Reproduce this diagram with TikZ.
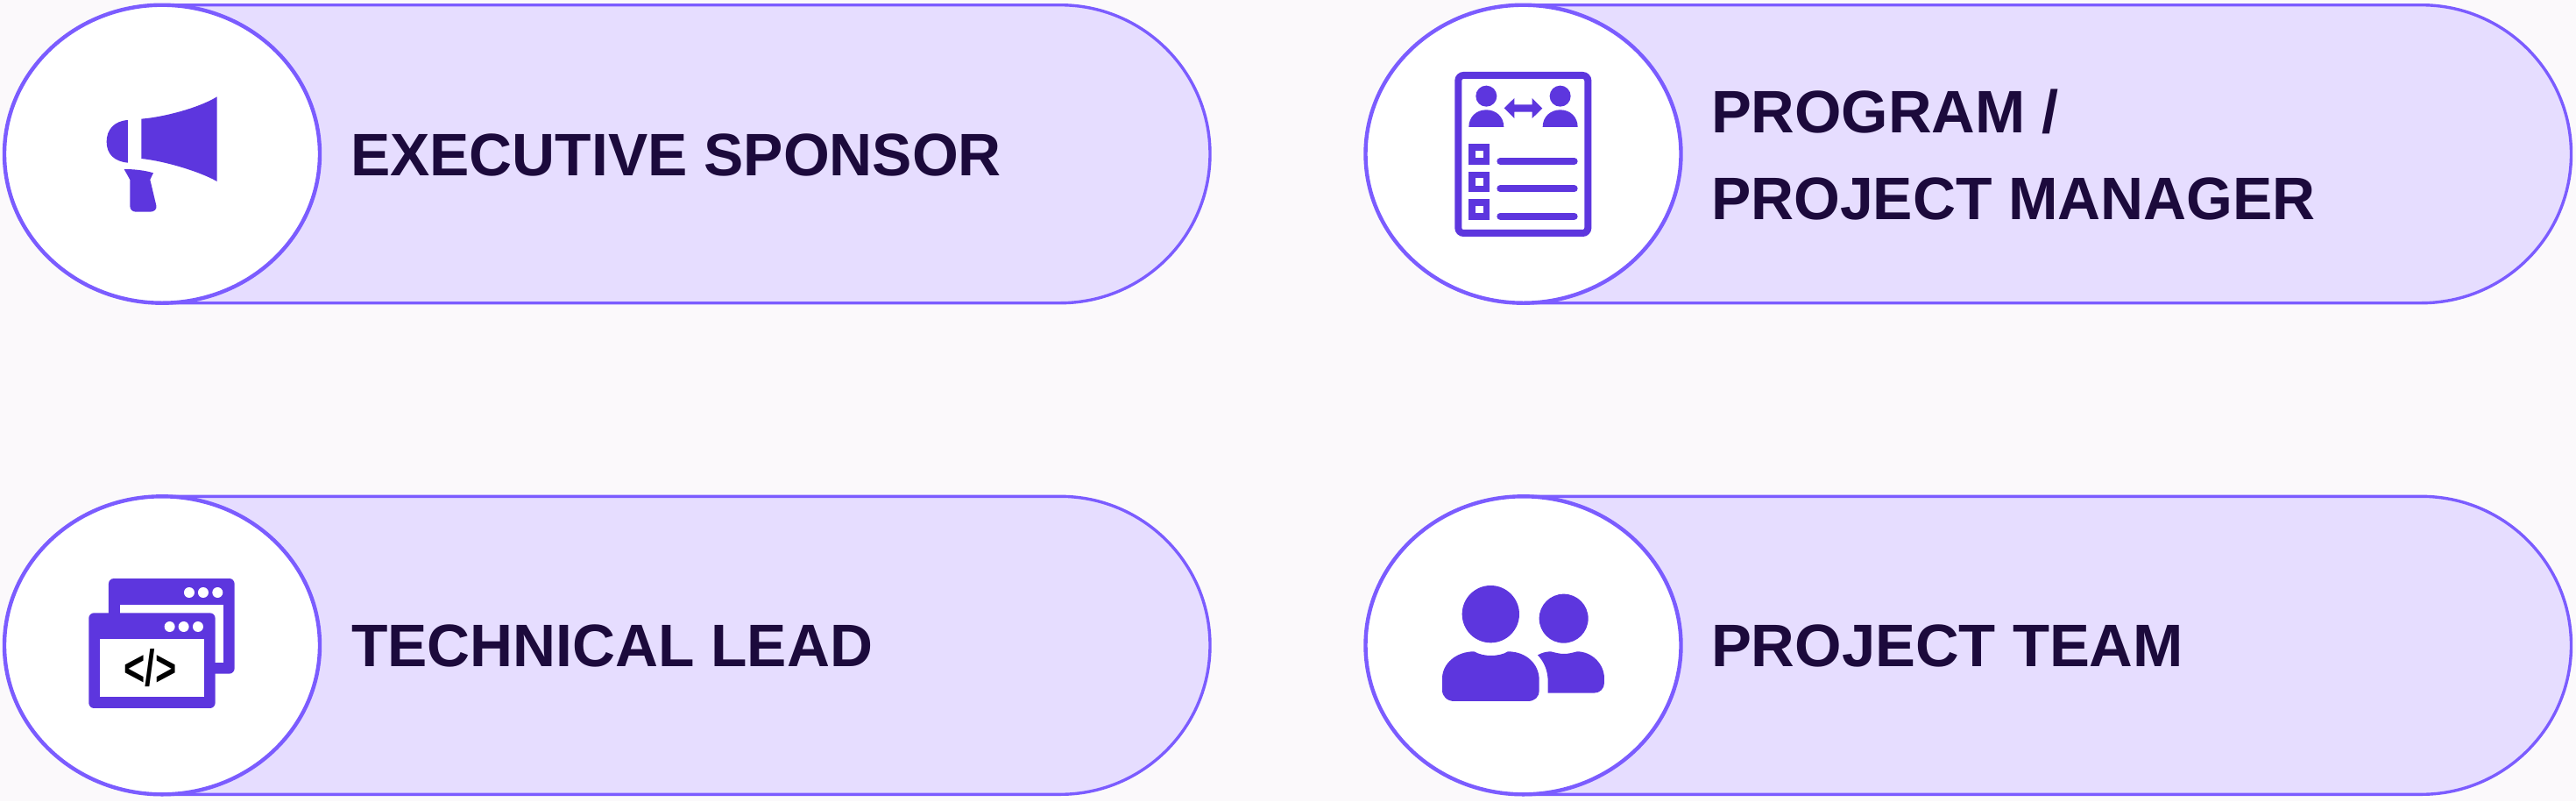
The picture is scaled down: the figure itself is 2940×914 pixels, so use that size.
\documentclass[tikz,border=0pt]{standalone}
\usepackage{fontspec}
\usepackage{graphicx}
\setmainfont{Liberation Sans}
\definecolor{pagebg}{HTML}{FBF9FB}
\definecolor{pillfill}{HTML}{E6DDFF}
\definecolor{edgeviolet}{HTML}{7B5CFF}
\definecolor{iconviolet}{HTML}{5D36DE}
\definecolor{inktext}{HTML}{1C0A3C}
\tikzset{
  pillbody/.style={draw=edgeviolet,fill=pillfill,line width=3.4pt},
  discbody/.style={draw=edgeviolet,fill=white,line width=4.4pt},
  ico/.style={fill=iconviolet,draw=none},
  hole/.style={fill=white,draw=none},
  icoline/.style={draw=iconviolet,line cap=round,line width=8pt},
  label/.style={anchor=base west,inner sep=0pt,outer sep=0pt,text=inktext,font=\fontsize{68.4pt}{68.4pt}\selectfont\bfseries},
  zoomed/.style={x=0.3333pt,y=-0.3333pt}
}
\newcommand{\pillcard}[2]{%
  \begin{scope}[shift={(#1,#2)}]
    \draw[pillbody] (0,0) -- (1025,0)
      .. controls (1119.4,0) and (1196,76.1) .. (1196,170)
      .. controls (1196,263.9) and (1119.4,340) .. (1025,340)
      -- (0,340) -- cycle;
    \draw[discbody] (0,170) ellipse [x radius=180,y radius=170];
  \end{scope}}
\begin{document}
\begin{tikzpicture}[x=1pt,y=-1pt]
\useasboundingbox (0,0) rectangle (2940,914);
\fill[pagebg] (0,0) rectangle (2940,914);

\pillcard{185}{5.7}
\pillcard{1738.5}{5.7}
\pillcard{185}{566.3}
\pillcard{1738.5}{566.3}

% labels
\node[label] (sponsor) at (400,200) {\resizebox{743pt}{\height}{EXECUTIVE SPONSOR}};
\node[label] (program) at (1953,151.5) {\resizebox{397pt}{\height}{PROGRAM /}};
\node[label] (manager) at (1953,250) {\resizebox{690pt}{\height}{PROJECT MANAGER}};
\node[label] (techlead) at (401,760) {\resizebox{595pt}{\height}{TECHNICAL LEAD}};
\node[label] (team) at (1953,760) {\resizebox{539pt}{\height}{PROJECT TEAM}};

% megaphone
\begin{scope}[zoomed]
  \fill[ico] (484,407) .. controls (570,400) and (690,365) .. (743,331) -- (743,621)
     .. controls (690,590) and (570,552) .. (484,543) -- cycle;
  \fill[ico] (438,411) .. controls (390,414) and (365,445) .. (365,485)
     .. controls (365,528) and (392,553) .. (438,557) -- cycle;
  \fill[ico] (425,579) .. controls (460,579) and (495,583) .. (525,592) -- (514,615) -- (535,703)
     .. controls (538,716) and (528,725) .. (515,725) -- (465,725)
     .. controls (453,725) and (445,716) .. (445,705) -- (445,615) -- cycle;
\end{scope}

% program manager sheet
\begin{scope}[shift={(1550,0)},zoomed]
  \draw[draw=iconviolet,line width=8pt,rounded corners=6pt] (343,258) rectangle (787,798);
  \fill[ico] (439,329) circle [radius=36];
  \fill[ico] (692,329) circle [radius=36];
  \fill[ico] (379,435) .. controls (379,400) and (405,376) .. (439,376)
     .. controls (473,376) and (499,400) .. (499,435) -- cycle;
  \fill[ico] (632,435) .. controls (632,400) and (658,376) .. (692,376)
     .. controls (726,376) and (752,400) .. (752,435) -- cycle;
  \fill[ico] (500,370) -- (535,336) -- (535,358) -- (596,358) -- (596,336) -- (631,371)
     -- (596,405) -- (596,383) -- (535,383) -- (535,405) -- cycle;
  \foreach \yy in {493,587,681}{
    \fill[ico] (379,\yy) rectangle ++(72,71);
    \fill[hole] (402,\yy+23) rectangle ++(26,25);
    \draw[icoline] (487,\yy+59) -- (740,\yy+59);
  }
\end{scope}

% stacked code windows
\begin{scope}[shift={(0,554)},zoomed]
  \fill[ico,rounded corners=6pt] (372,318) rectangle (803,644);
  \fill[hole] (410,407) rectangle (765,606);
  \foreach \xx in {648,696,745}{\fill[hole] (\xx,366) circle [radius=18];}
  \fill[ico,rounded corners=6pt] (304,436) rectangle (737,762);
  \fill[hole] (343,525) rectangle (698,723);
  \foreach \xx in {581,629,678}{\fill[hole] (\xx,483) circle [radius=18];}
  \node[inner sep=0pt,text=black,font=\fontsize{58pt}{58pt}\selectfont\bfseries] (code) at (514,625)
    {\resizebox{60pt}{\height}{</>}};
\end{scope}

% team people
\begin{scope}[shift={(1550,554)},zoomed]
  \fill[ico] (454,440) circle [radius=98];
  \fill[ico] (704,455) circle [radius=84];
  \fill[ico] (397,568) .. controls (415,578) and (435,582) .. (455,582)
     .. controls (475,582) and (497,578) .. (513,568)
     .. controls (575,568) and (620,610) .. (620,665) -- (620,700)
     .. controls (620,725) and (605,738) .. (580,738) -- (330,738)
     .. controls (305,738) and (288,722) .. (288,700) -- (288,660)
     .. controls (288,610) and (335,568) .. (397,568) -- cycle;
  \fill[ico] (615,580) .. controls (630,572) and (645,568) .. (660,568)
     .. controls (675,572) and (690,576) .. (705,576)
     .. controls (720,576) and (735,572) .. (750,568)
     .. controls (800,568) and (843,610) .. (843,660) -- (843,675)
     .. controls (843,695) and (828,710) .. (808,710) -- (650,710) -- (650,670)
     .. controls (650,635) and (638,605) .. (615,580) -- cycle;
\end{scope}
\end{tikzpicture}
\end{document}
